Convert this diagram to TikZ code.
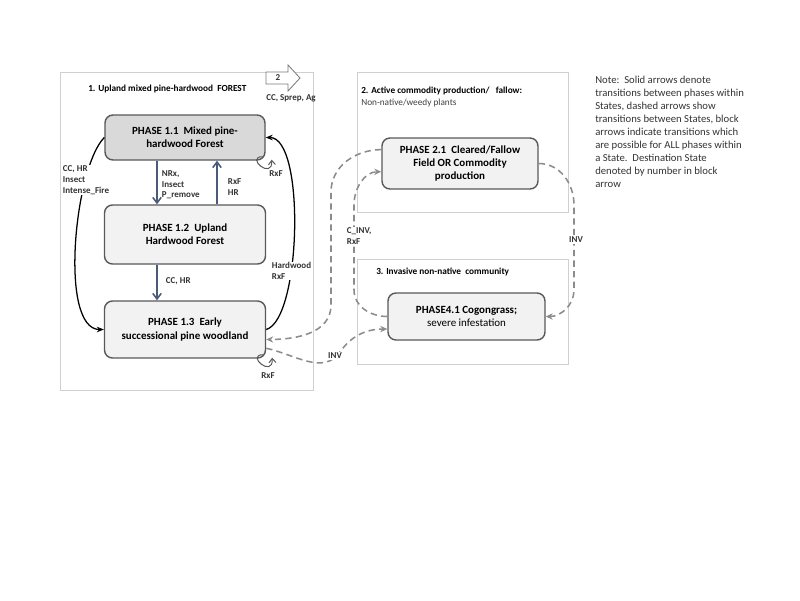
\documentclass[tikz,border=0pt]{standalone}
\usepackage{fontspec}
\setmainfont{Carlito}
\usetikzlibrary{arrows.meta}

\definecolor{boxline}{HTML}{595959}
\definecolor{stateline}{HTML}{D0D0D0}
\definecolor{phasefill}{HTML}{F2F2F2}
\definecolor{phasedark}{HTML}{D9D9D9}
\definecolor{slate}{HTML}{4A5A7A}
\definecolor{dashgray}{HTML}{8C8C8C}

\begin{document}
\begin{tikzpicture}[x=0.25mm,y=-0.25mm,
        statebox/.style={draw=stateline,line width=0.6pt,fill=white,inner sep=0pt},
        phase/.style={draw=boxline,line width=1pt,rounded corners=0.2cm,fill=phasefill,align=center,
            font=\fontsize{7.8}{9.4}\selectfont\bfseries,inner sep=1pt},
        lbl/.style={font=\fontsize{6.4}{7.6}\selectfont\bfseries,align=left,inner sep=0.5pt,text=black!80},
        within/.style={draw=slate,line width=1.1pt,-{Straight Barb[length=4pt,width=6pt]}},
        curved/.style={draw=black,line width=0.9pt,-{Stealth[length=5pt,width=4pt]}},
        between/.style={draw=dashgray,line width=1.1pt,dash pattern=on 4.5pt off 3pt,-{Stealth[length=5pt,width=4.5pt]}},
        selfloop/.style={draw=boxline,line width=0.7pt,-{Straight Barb[length=3pt,width=5pt]}}
    ]
        %   \draw [help lines] (0,0) grid (800,600);
        \useasboundingbox (0,0) rectangle (800,600);

        \node [statebox,minimum width=6.325cm,minimum height=7.95cm] (state1) at (186.5,231) {};
        \node [statebox,minimum width=5.275cm,minimum height=3.5cm] (state2) at (462.5,142) {};
        \node [statebox,minimum width=5.275cm,minimum height=2.625cm] (state3) at (462.5,311.5) {};

        \node [anchor=west,inner sep=0pt,font=\fontsize{6.6}{8}\selectfont\bfseries] (title1) at (88,89) {1. Upland mixed pine-hardwood\ \ FOREST};
        \node [anchor=west,inner sep=0pt,font=\fontsize{6.6}{8}\selectfont\bfseries] (title2) at (361,91) {2. Active commodity production/\ \ \ fallow:};
        \node [anchor=west,inner sep=0pt,font=\fontsize{6.6}{8}\selectfont,text=black!75] (title2b) at (361,103) {Non-native/weedy plants};
        \node [anchor=west,inner sep=0pt,font=\fontsize{6.6}{8}\selectfont\bfseries] (title3) at (376,272) {3. Invasive non-native\ \ community};

        % block arrow to State 2
        \draw [draw=boxline!80,line width=0.6pt,fill=white] (266,72) -- (288,72) -- (288,65) -- (300,78) -- (288,91) -- (288,84) -- (266,84) -- cycle;
        \node [lbl] (dest2) at (278,78) {2};
        \node [lbl] (lblblock) at (291,98) {CC, Sprep, Ag};

        \node [phase,fill=phasedark,minimum width=4cm,minimum height=1.125cm] (p11) at (185,137.5) {PHASE 1.1\ \ Mixed pine-\\hardwood Forest};
        \node [phase,minimum width=4.025cm,minimum height=1.475cm] (p12) at (185,234.5) {PHASE 1.2\ \ Upland\\Hardwood Forest};
        \node [phase,minimum width=4.025cm,minimum height=1.425cm] (p13) at (185,329.5) {PHASE 1.3\ \ Early\\successional pine woodland};
        \node [phase,minimum width=3.9cm,minimum height=1.275cm] (p21) at (460,163.5) {PHASE 2.1\ \ Cleared/Fallow\\Field OR Commodity\\production};
        \node [phase,minimum width=3.925cm,minimum height=1.175cm] (p41) at (466.5,316.5) {PHASE4.1 Cogongrass;\\{\mdseries severe infestation}};

        \draw [within] ([xshift=-0.7cm]p11.south) -- ([xshift=-0.7cm]p12.north);
        \draw [within] ([xshift=0.8cm]p12.north) -- ([xshift=0.8cm]p11.south);
        \draw [within] ([xshift=-0.7cm]p12.south) -- ([xshift=-0.7cm]p13.north);
        \node [lbl,anchor=west] (lblnrx) at (161,185) {NRx,\\Insect\\P\_remove};
        \node [lbl,anchor=west] (lblrxfhr) at (227,187) {RxF\\HR};
        \node [lbl,anchor=west] (lblcchr) at (165,281) {CC, HR};

        \draw [curved] (p11.west) .. controls +(-30,30) and +(-45,0) .. (p13.west);
        \node [lbl,fill=white,anchor=west] (lblfire) at (62,180) {CC, HR\\Insect\\Intense\_Fire};
        \draw [curved] (p13.east) .. controls +(35,-10) and +(40,0) .. (p11.east);
        \node [lbl,fill=white,anchor=west] (lblhard) at (271,271) {Hardwood\\RxF};

        \draw [selfloop] ([shift={(-3,-4)}]p11.south east) .. controls +(-18,0) and +(1,21) .. ([shift={(6,-1)}]p11.south east);
        \node [lbl] (lblloop1) at (276,174) {RxF};
        \draw [selfloop] ([shift={(-3,-4)}]p13.south east) .. controls +(-18,0) and +(1,21) .. ([shift={(6,-1)}]p13.south east);
        \node [lbl] (lblloop3) at (268,376) {RxF};

        \draw [between] (p21.170) to[out=180,in=90] (331,192) -- (331,305) to[out=270,in=0] (p13.-7);
        \draw [between] (p13.-13) to[out=-12,in=235] (340,352) to[out=55,in=180] (p41.189);
        \node [lbl,fill=white] (lblinv1) at (335,356) {INV};
        \draw [between] (p41.west) to[out=180,in=270] (354,290) -- (354,205) to[out=90,in=180] (p21.-174);
        \node [lbl,fill=white,anchor=west] (lblcinv) at (346,236) {C\_INV,\\RxF};
        \draw [between] (p21.east) to[out=0,in=90] (574,205) -- (574,290) to[out=270,in=0] (p41.east);
        \node [lbl,fill=white] (lblinv2) at (576,240) {INV};

        \node [anchor=north west,inner sep=0pt,align=left,text=black!80,font=\fontsize{7.6}{9.2}\selectfont] (note) at (595,76)
        {
        Note:\ \ Solid arrows denote\\
        transitions between phases within\\
        States, dashed arrows show\\
        transitions between States, block\\
        arrows indicate transitions which\\
        are possible for ALL phases within\\
        a State.\ \ Destination State\\
        denoted by number in block\\
        arrow
        };
    \end{tikzpicture}
\end{document}
